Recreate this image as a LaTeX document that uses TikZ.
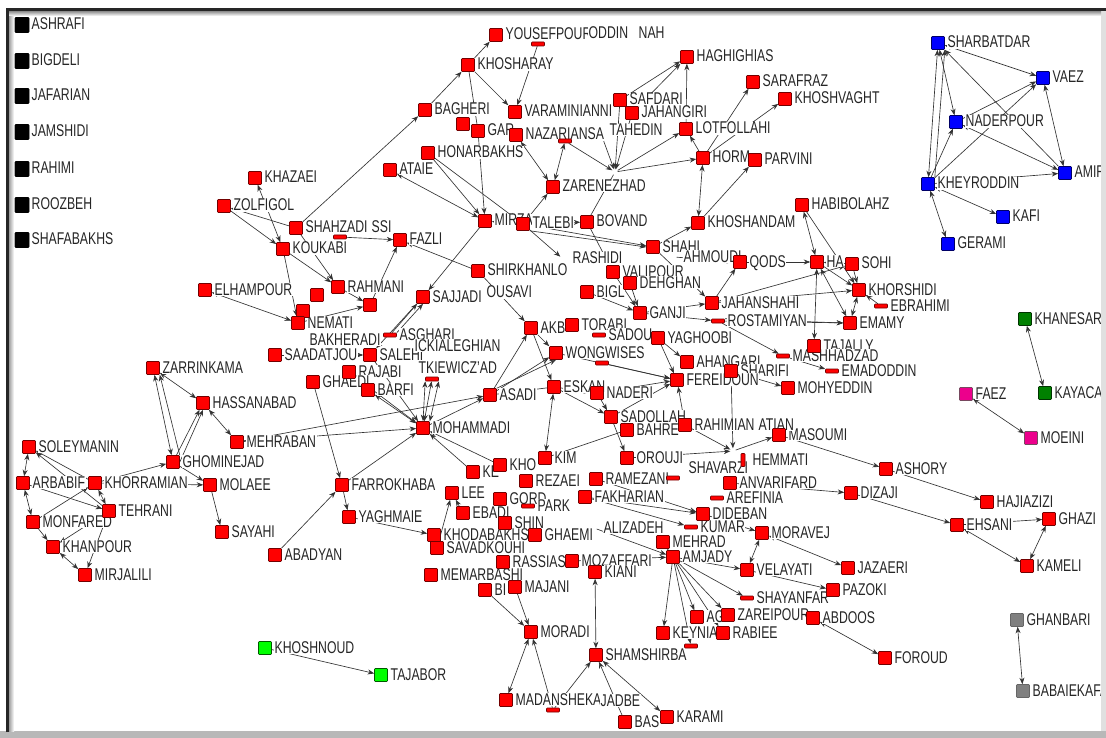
\documentclass[tikz,border=0pt]{standalone}
\usepackage{fontspec}
\setmainfont[FakeStretch=0.72]{Liberation Sans}
\usetikzlibrary{arrows.meta}
\pgfdeclarelayer{back}\pgfdeclarelayer{bg}\pgfdeclarelayer{lab}
\pgfsetlayers{back,bg,lab,main}
\newcommand\lblfont{\fontsize{17}{19}\selectfont}
\newcommand\nd[5][sq]{\node[#1] (#2) at (#3,#4) {};\begin{pgfonlayer}{lab}\node[lbl] (#2-l) at ({#3+9},{#4+5}) {#5};\end{pgfonlayer}}
\newcommand\nn[4][sq]{\node[#1] (#2) at (#3,#4) {};}
\newcommand\tx[4]{\begin{pgfonlayer}{lab}\node[lbl] (#1) at (#2,#3) {#4};\end{pgfonlayer}}
\newcommand\Ea[2]{\draw[ar] (#1) -- (#2);}
\newcommand\Eb[2]{\draw[br] (#1) -- (#2);}
\newcommand\El[2]{\draw[ln] (#1) -- (#2);}
\begin{document}
\begin{tikzpicture}[x=1pt,y=-1pt,
  sq/.style={draw=red!45!black, fill=red, line width=0.6pt, minimum width=13pt, minimum height=13pt, inner sep=0pt, rounded corners=0.8pt},
  bsq/.style={sq, fill=blue, draw=blue!40!black},
  ksq/.style={sq, fill=black, draw=black, minimum width=14pt, minimum height=15pt},
  gsq/.style={sq, fill=green, draw=green!35!black},
  dsq/.style={sq, fill=green!50!black, draw=green!20!black},
  msq/.style={sq, fill=magenta, draw=magenta!40!black},
  ysq/.style={sq, fill=gray, draw=black!60},
  hbar/.style={sq, minimum height=4pt},
  vbar/.style={sq, minimum width=4pt},
  hid/.style={minimum size=5pt, inner sep=0pt},
  lbl/.style={font=\lblfont, inner sep=0.5pt, fill=white, text=black!85, anchor=base west},
  ln/.style={draw=black!80, line width=0.65pt},
  ar/.style={ln, -{Stealth[length=6.5pt,width=5pt]}},
  br/.style={ln, {Stealth[length=6.5pt,width=5pt]}-{Stealth[length=6.5pt,width=5pt]}}
]
\useasboundingbox (0,0) rectangle (1106,738);
\begin{pgfonlayer}{back}
\fill[white] (0,0) rectangle (1106,738);
\end{pgfonlayer}

% isolates
\nd[ksq]{ASHRAFI}{22}{25}{ASHRAFI}
\nd[ksq]{BIGDELI}{22}{61}{BIGDELI}
\nd[ksq]{JAFARIAN}{22}{96}{JAFARIAN}
\nd[ksq]{JAMSHIDI}{22}{132}{JAMSHIDI}
\nd[ksq]{RAHIMI}{22}{169}{RAHIMI}
\nd[ksq]{ROOZBEH}{22}{205}{ROOZBEH}
\nd[ksq]{SHAFABAKHS}{22}{240}{SHAFABAKHS}

% blue
\nd[bsq]{SHARBATDAR}{938}{43}{SHARBATDAR}
\nd[bsq]{VAEZ}{1043}{78}{VAEZ}
\nd[bsq]{NADERPOUR}{956}{122}{NADERPOUR}
\nd[bsq]{AMIR}{1065}{173}{AMIR}
\nd[bsq]{KHEYRODDIN}{928}{184}{KHEYRODDIN}
\nd[bsq]{KAFI}{1003}{217}{KAFI}
\nd[bsq]{GERAMI}{948}{244}{GERAMI}

% small components
\nd[gsq]{KHOSHNOUD}{265}{648}{KHOSHNOUD}
\nd[gsq]{TAJABOR}{381}{675}{TAJABOR}
\nd[dsq]{KHANESAR}{1025}{319}{KHANESAR}
\nd[dsq]{KAYACAN}{1045}{393}{KAYACAN}
\nd[msq]{FAEZ}{966}{394}{FAEZ}
\nd[msq]{MOEINI}{1031}{438}{MOEINI}
\nd[ysq]{GHANBARI}{1017}{620}{GHANBARI}
\nd[ysq]{BABAIEKAFA}{1023}{691}{BABAIEKAFA}

% top
\nd{YOUSEF}{496}{35}{YOUSEFPOUR}
\nn[hbar]{ODDIN}{538}{44}
\tx{oddintx}{588}{39}{ODDIN}
\tx{nahtx}{638}{39}{NAH}
\nd{KHOSHARAY}{468}{65}{KHOSHARAY}
\nd{BAGHERI}{425}{110}{BAGHERI}
\nd{VARAMINI}{515}{112}{VARAMINIANNI}
\nn{AB}{463}{124}
\nd{GARO}{478}{131}{GAR}
\nd{NAZARIANSA}{516}{135}{NAZARIANSA}
\nn[hbar]{nz}{565}{141}
\nd{HONARBAKHS}{428}{153}{HONARBAKHS}
\nd{ATAIE}{390}{170}{ATAIE}
\nd{MIRZA}{485}{221}{MIRZA}
\nd{TALEBI}{523}{224}{TALEBI}
\nd{SHAHZADI}{296}{228}{SHAHZADI}
\tx{ssitx}{371}{233}{SSI}
\nn[hbar]{hb1}{340}{237}
\nd{FAZLI}{400}{240}{FAZLI}
\nd{KOUKABI}{283}{249}{KOUKABI}
\nd{KHAZAEI}{255}{178}{KHAZAEI}
\nd{ZOLFIGOL}{224}{206}{ZOLFIGOL}
\nd{HAGHIGHIAS}{687}{57}{HAGHIGHIAS}
\nd{SARAFRAZ}{753}{82}{SARAFRAZ}
\nd{KHOSHVAGHT}{785}{99}{KHOSHVAGHT}
\nd{SAFDARI}{620}{100}{SAFDARI}
\nd{JAHANGIRI}{632}{113}{JAHANGIRI}
\nd[hid]{tah}{600}{131}{TAHEDIN}
\nn[hid]{hz}{615}{172}
\nd{LOTFOLLAHI}{686}{129}{LOTFOLLAHI}
\nd{HORMOZI}{703}{158}{HORM}
\nd{PARVINI}{755}{160}{PARVINI}
\nd{ZARENEZHAD}{553}{187}{ZARENEZHAD}
\nd{BOVAND}{587}{222}{BOVAND}
\nd{KHOSHANDAM}{698}{223}{KHOSHANDAM}
\nd{SHAHI}{653}{247}{SHAHI}
\nd{HABIBOLAHZ}{802}{205}{HABIBOLAHZ}

% left
\nd{ELHAMPOUR}{205}{290}{ELHAMPOUR}
\nd{SAADATJOU}{275}{355}{SAADATJOU}
\nd{ZARRINKAMA}{153}{368}{ZARRINKAMA}
\nd{HASSANABAD}{203}{403}{HASSANABAD}
\nd{MEHRABAN}{237}{442}{MEHRABAN}
\nd{SOLEYMANIN}{29}{447}{SOLEYMANIN}
\nd{GHOMINEJAD}{173}{462}{GHOMINEJAD}
\nd{ARBABIF}{23}{483}{ARBABIF}
\nd{KHORRAMIAN}{95}{483}{KHORRAMIAN}
\nd{MOLAEE}{210}{485}{MOLAEE}
\nd{TEHRANI}{109}{511}{TEHRANI}
\nd{MONFARED}{33}{522}{MONFARED}
\nd{KHANPOUR}{53}{547}{KHANPOUR}
\nd{MIRJALILI}{85}{575}{MIRJALILI}
\nd{SAYAHI}{222}{532}{SAYAHI}
\nd{ABADYAN}{275}{555}{ABADYAN}

% middle left
\nd{RAHMANI}{338}{287}{RAHMANI}
\nn{m1}{317}{295}
\nn{m2}{303}{311}
\nd{NEMATI}{298}{323}{NEMATI}
\tx{bakh}{309}{345}{BAKHERADI}
\nn{n370}{370}{305}
\nd{SAJJADI}{423}{297}{SAJJADI}
\nd{SHIRKHANLO}{478}{271}{SHIRKHANLO}
\tx{ousavi}{486}{298}{OUSAVI}
\nd[hbar]{ASGHARI}{390}{335}{ASGHARI}
\nd{SALEHI}{370}{355}{SALEHI}
\tx{ickitx}{414}{351}{ICKIALEGHIAN}
\nd{RAJABI}{349}{372}{RAJABI}
\tx{tkiew}{418}{373}{TKIEWICZ’AD}
\nn[hbar]{tb}{432}{379}
\nd{GHAEDI}{313}{382}{GHAEDI}
\nd{BARFI}{368}{390}{BARFI}
\nd{ASADI}{490}{395}{ASADI}
\nd{MOHAMMADI}{423}{428}{MOHAMMADI}
\nd{FARROKHABA}{342}{485}{FARROKHABA}
\nd{YAGHMAIE}{349}{517}{YAGHMAIE}

% center lower
\nd{KE}{473}{472}{KE}
\nd{KHO}{500}{465}{KHO}
\nd{KIM}{545}{458}{KIM}
\nd{REZAEI}{526}{481}{REZAEI}
\nd{LEE}{452}{493}{LEE}
\nd{GORD}{500}{499}{GORD}
\nd{EBADI}{463}{513}{EBADI}
\nd{SHIN}{505}{523}{SHIN}
\nd[hbar]{PARK}{528}{506}{PARK}
\nd{KHODA}{434}{535}{KHODABAKHSH}
\nd{SAVADKOUHI}{437}{548}{SAVADKOUHI}
\nd{MEMARBASHI}{431}{575}{MEMARBASHI}
\nd{RASSIAS}{503}{562}{RASSIAS}
\nd{GHAEMI}{535}{535}{GHAEMI}
\nd{BI}{485}{590}{BI}
\nd{MAJANI}{515}{587}{MAJANI}
\nd{MORADI}{531}{632}{MORADI}
\nd{MADANSHEKA}{506}{700}{MADANSHEKA}
\nn[hbar]{jb}{553}{710}
\tx{jadbe}{600}{706}{JADBE}
\nd{SHAMSHIRBA}{596}{655}{SHAMSHIRBA}
\nd{BAS}{625}{722}{BAS}
\nd{KARAMI}{667}{717}{KARAMI}
\nd{FAKHARIAN}{585}{497}{FAKHARIAN}
\nd{RAMEZANI}{596}{479}{RAMEZANI}
\nd[hid]{ali}{594}{528}{ALIZADEH}
\nd{MOZAFFARI}{572}{561}{MOZAFFARI}
\nd{KIANI}{595}{572}{KIANI}
\nd{DIDEBAN}{703}{514}{DIDEBAN}
\nd[hbar]{KUMAR}{691}{527}{KUMAR}
\nd{MORAVEJ}{762}{533}{MORAVEJ}
\nd{MEHRAD}{663}{542}{MEHRAD}
\nd{AMJADY}{673}{557}{AMJADY}
\nd{VELAYATI}{747}{570}{VELAYATI}
\nd[hbar]{SHAYANFAR}{747}{598}{SHAYANFAR}
\nd{AG}{697}{617}{AG}
\nd{ZAREIPOUR}{728}{615}{ZAREIPOUR}
\nd{RABIEE}{723}{633}{RABIEE}
\nd{KEYNIA}{663}{633}{KEYNIA}
\nn[hbar]{kb}{691}{646}
\nd{ABDOOS}{813}{618}{ABDOOS}
\nd{JAZAERI}{848}{568}{JAZAERI}
\nd{PAZOKI}{833}{590}{PAZOKI}
\nd{FOROUD}{885}{658}{FOROUD}
\nd{DIZAJI}{851}{493}{DIZAJI}
\nd{HAJIAZIZI}{987}{502}{HAJIAZIZI}
\nd{EHSANI}{957}{525}{EHSANI}
\nd{GHAZI}{1049}{519}{GHAZI}
\nd{KAMELI}{1027}{566}{KAMELI}
\nd{ASHORY}{886}{469}{ASHORY}
\nd{MASOUMI}{779}{435}{MASOUMI}
\nd{ANVARIFARD}{730}{483}{ANVARIFARD}
\nd[hbar]{AREFINIA}{717}{498}{AREFINIA}
\nn[hbar]{abd}{673}{478}
\nd[vbar]{HEMMATI}{743}{460}{HEMMATI}
\nn[hid]{kesh}{733}{451}
\tx{keshtx}{688}{473}{SHAVARZI}

% center upper
\nd{VALIPOUR}{613}{272}{VALIPOUR}
\nd[hid]{rash}{563}{259}{RASHIDI}
\nd{BIGL}{587}{292}{BIGL}
\nd{DEHGHAN}{630}{283}{DEHGHAN}
\nd[hid]{ahm}{674}{257}{AHMOUDI}
\nd{QODS}{740}{262}{QODS}
\nd{JAHANSHAHI}{712}{303}{JAHANSHAHI}
\nd{GANJI}{640}{313}{GANJI}
\nd[hbar]{ROSTAMIYAN}{718}{321}{ROSTAMIYAN}
\nd{AKB}{531}{328}{AKB}
\nd{TORABI}{572}{325}{TORABI}
\nd[hbar]{SADOU}{599}{335}{SADOU}
\nd{YAGHOOBI}{658}{338}{YAGHOOBI}
\nd{WONGWISES}{556}{353}{WONGWISES}
\nn[hbar]{wb}{602}{363}
\nd{AHANGARI}{687}{362}{AHANGARI}
\nd{SHARIFI}{731}{371}{SHARIFI}
\nd{FEREIDOUN}{677}{380}{FEREIDOUN}
\nd{ESKAN}{554}{387}{ESKAN}
\nd{NADERI}{597}{393}{NADERI}
\nd{MOHYEDDIN}{788}{388}{MOHYEDDIN}
\nd{SADOLLAH}{611}{417}{SADOLLAH}
\nd{BAHRE}{627}{430}{BAHRE}
\nd{RAHIMIAN}{685}{425}{RAHIMIAN}
\tx{atian}{758}{430}{ATIAN}
\nd{OROUJI}{627}{458}{OROUJI}

% right middle
\nd{HA}{817}{262}{HA}
\nd{SOHI}{852}{264}{SOHI}
\nd{KHORSHIDI}{859}{290}{KHORSHIDI}
\nd[hbar]{EBRAHIMI}{881}{306}{EBRAHIMI}
\nd{EMAMY}{850}{323}{EMAMY}
\nd{TAJALLY}{814}{346}{TAJALLY}
\nd[hbar]{MASHHADZAD}{783}{356}{MASHHADZAD}
\nd[hbar]{EMADODDIN}{832}{371}{EMADODDIN}

\begin{pgfonlayer}{bg}
% blue
\Eb{SHARBATDAR}{VAEZ}
\Eb{SHARBATDAR}{NADERPOUR}
\Eb{KHEYRODDIN}{SHARBATDAR}
\draw[ar] (KHEYRODDIN.north east) -- (SHARBATDAR.south east);
\Ea{AMIR}{SHARBATDAR}
\Ea{NADERPOUR}{VAEZ}
\Ea{KHEYRODDIN}{VAEZ}
\Ea{KHEYRODDIN}{NADERPOUR}
\Eb{NADERPOUR}{AMIR}
\Eb{VAEZ}{AMIR}
\Ea{KHEYRODDIN}{AMIR}
\Eb{KHEYRODDIN}{KAFI}
\Eb{KHEYRODDIN}{GERAMI}
% pairs
\Ea{KHOSHNOUD}{TAJABOR}
\Eb{FAEZ}{MOEINI}
\Eb{KHANESAR}{KAYACAN}
\Eb{GHANBARI}{BABAIEKAFA}
% right lower
\Ea{ANVARIFARD}{DIZAJI}
\Ea{DIZAJI}{EHSANI}
\Ea{ASHORY}{HAJIAZIZI}
\Ea{MASOUMI}{ASHORY}
\Ea{EHSANI}{GHAZI}
\Eb{EHSANI}{KAMELI}
\Eb{KAMELI}{GHAZI}
\Eb{ABDOOS}{FOROUD}
\Eb{MORAVEJ}{JAZAERI}
\Ea{VELAYATI}{PAZOKI}
\Eb{MORAVEJ}{VELAYATI}
\Ea{DIDEBAN}{MORAVEJ}
\Ea{AMJADY}{VELAYATI}
\Ea{AMJADY}{KEYNIA}
\Ea{AMJADY}{AG}
\Ea{AMJADY}{ZAREIPOUR}
\Ea{AMJADY}{RABIEE}
\Ea{AMJADY}{SHAYANFAR}
\Ea{AMJADY}{kb}
\Ea{MEHRAD}{AMJADY}
\Ea{ali}{AMJADY}
\Ea{MOZAFFARI}{AMJADY}
\Ea{FAKHARIAN}{DIDEBAN}
\Ea{RAMEZANI}{DIDEBAN}
\Ea{FAKHARIAN}{KUMAR}
\Eb{KIANI}{SHAMSHIRBA}
\Ea{jb}{SHAMSHIRBA}
\Eb{SHAMSHIRBA}{KARAMI}
\Ea{BAS}{SHAMSHIRBA}
\Ea{BI}{MORADI}
\Ea{MAJANI}{MORADI}
\Eb{MORADI}{MADANSHEKA}
\Ea{jb}{MORADI}
% lower middle
\Ea{YAGHMAIE}{KHODA}
\Ea{FARROKHABA}{YAGHMAIE}
\Ea{ABADYAN}{FARROKHABA}
\Ea{GHAEDI}{FARROKHABA}
\Ea{FARROKHABA}{MOHAMMADI}
\Ea{KHO}{MOHAMMADI}
\Ea{KE}{MOHAMMADI}
\Ea{SAVADKOUHI}{LEE}
\Ea{EBADI}{LEE}
\Ea{MOHAMMADI}{ASADI}
\Ea{MEHRABAN}{MOHAMMADI}
\Ea{MEHRABAN}{ASADI}
\Eb{BARFI}{MOHAMMADI}
\Ea{RAJABI}{MOHAMMADI}
\Eb{tb}{MOHAMMADI}
\draw[br] (tb.south west) -- (MOHAMMADI.north);
\draw[br] (tb.south east) -- (MOHAMMADI.north east);
\Ea{SALEHI}{MOHAMMADI}
\Ea{ASADI}{AKB}
\Ea{ASADI}{WONGWISES}
\draw[ar] (ASADI.north east) -- (WONGWISES.south);
\Ea{AKB}{ESKAN}
\El{ASADI}{ESKAN}
\Eb{ESKAN}{KIM}
\Ea{ESKAN}{NADERI}
\Ea{ESKAN}{SADOLLAH}
\Ea{NADERI}{SADOLLAH}
\Ea{SADOLLAH}{FEREIDOUN}
\Ea{NADERI}{FEREIDOUN}
\Ea{WONGWISES}{FEREIDOUN}
\Ea{wb}{FEREIDOUN}
\Ea{YAGHOOBI}{FEREIDOUN}
\Ea{YAGHOOBI}{AHANGARI}
\Ea{RAHIMIAN}{FEREIDOUN}
\Ea{SADOLLAH}{OROUJI}
\Ea{OROUJI}{kesh}
\Ea{RAHIMIAN}{kesh}
\Ea{SHARIFI}{kesh}
\Ea{kesh}{MASOUMI}
\El{KIM}{BAHRE}
\Ea{SHARIFI}{MOHYEDDIN}
\Ea{ROSTAMIYAN}{MASHHADZAD}
\Ea{MASHHADZAD}{EMADODDIN}
\Ea{GANJI}{JAHANSHAHI}
\Ea{VALIPOUR}{GANJI}
\Ea{DEHGHAN}{GANJI}
\Ea{BIGL}{GANJI}
\Ea{SHAHI}{JAHANSHAHI}
\Ea{ahm}{QODS}
\Ea{JAHANSHAHI}{QODS}
\Ea{QODS}{HA}
\Ea{JAHANSHAHI}{SOHI}
\Ea{JAHANSHAHI}{KHORSHIDI}
\Ea{ROSTAMIYAN}{EMAMY}
\draw[ar] (ROSTAMIYAN.north east) -- (EMAMY.west);
\Ea{GANJI}{ROSTAMIYAN}
\Ea{AKB}{WONGWISES}
% right cluster
\Eb{HABIBOLAHZ}{HA}
\Ea{HABIBOLAHZ}{KHORSHIDI}
\Eb{HA}{SOHI}
\Ea{HA}{KHORSHIDI}
\Eb{HA}{EMAMY}
\Eb{HA}{TAJALLY}
\Ea{SOHI}{KHORSHIDI}
\Eb{KHORSHIDI}{EMAMY}
\Ea{EBRAHIMI}{KHORSHIDI}
% upper
\Ea{ZOLFIGOL}{KOUKABI}
\Ea{SHAHZADI}{ZOLFIGOL}
\Eb{KHAZAEI}{KOUKABI}
\Ea{SHAHZADI}{BAGHERI}
\Ea{hb1}{FAZLI}
\Ea{KOUKABI}{RAHMANI}
\Ea{KOUKABI}{NEMATI}
\Ea{SHAHZADI}{RAHMANI}
\Ea{RAHMANI}{n370}
\Eb{ELHAMPOUR}{NEMATI}
\Ea{SAADATJOU}{SALEHI}
\Ea{NEMATI}{n370}
\Ea{ASGHARI}{SAJJADI}
\draw[ar] (ASGHARI.north east) -- (SAJJADI.south);
\Ea{SAJJADI}{SALEHI}
\Ea{n370}{FAZLI}
\Ea{SHIRKHANLO}{FAZLI}
\Ea{MIRZA}{SAJJADI}
\Ea{HONARBAKHS}{MIRZA}
\Ea{GARO}{MIRZA}
\Eb{ATAIE}{MIRZA}
\Ea{HONARBAKHS}{TALEBI}
\Ea{TALEBI}{MIRZA}
\Ea{TALEBI}{ZARENEZHAD}
\Eb{NAZARIANSA}{ZARENEZHAD}
\Eb{nz}{ZARENEZHAD}
\Ea{KHOSHARAY}{VARAMINI}
\Ea{BAGHERI}{KHOSHARAY}
\Ea{KHOSHARAY}{YOUSEF}
\Ea{ODDIN}{VARAMINI}
\El{KHOSHARAY}{GARO}
\Ea{SAFDARI}{HAGHIGHIAS}
\Ea{JAHANGIRI}{HAGHIGHIAS}
\Ea{LOTFOLLAHI}{HAGHIGHIAS}
\Ea{SAFDARI}{hz}
\Ea{JAHANGIRI}{hz}
\Ea{tah}{hz}
\Ea{nz}{hz}
\Ea{hz}{LOTFOLLAHI}
\Ea{hz}{HORMOZI}
\Ea{HORMOZI}{LOTFOLLAHI}
\Ea{HORMOZI}{SARAFRAZ}
\Ea{HORMOZI}{KHOSHVAGHT}
\Eb{HORMOZI}{KHOSHANDAM}
\Ea{KHOSHANDAM}{PARVINI}
\Ea{SHAHI}{KHOSHANDAM}
\Ea{TALEBI}{SHAHI}
\draw[ar] (TALEBI.south east) -- (SHAHI.west);
\El{BOVAND}{hz}
\Ea{TALEBI}{BOVAND}
\Ea{TALEBI}{rash}
\Ea{BOVAND}{VALIPOUR}
\Ea{SHIRKHANLO}{AKB}
% lower left
\Eb{ZARRINKAMA}{HASSANABAD}
\Eb{ZARRINKAMA}{GHOMINEJAD}
\draw[ar] (GHOMINEJAD.north east) -- (ZARRINKAMA.south east);
\Ea{GHOMINEJAD}{HASSANABAD}
\draw[ar] (GHOMINEJAD.east) -- (HASSANABAD.south);
\Eb{HASSANABAD}{MEHRABAN}
\Ea{KHORRAMIAN}{GHOMINEJAD}
\Ea{GHOMINEJAD}{MOLAEE}
\Ea{KHORRAMIAN}{MOLAEE}
\Ea{MOLAEE}{SAYAHI}
\Eb{SOLEYMANIN}{ARBABIF}
\Ea{KHORRAMIAN}{SOLEYMANIN}
\Ea{TEHRANI}{SOLEYMANIN}
\Ea{ARBABIF}{TEHRANI}
\Eb{KHORRAMIAN}{TEHRANI}
\Ea{MONFARED}{KHORRAMIAN}
\Eb{ARBABIF}{MONFARED}
\Ea{MONFARED}{KHANPOUR}
\Eb{KHANPOUR}{MIRJALILI}
\Ea{TEHRANI}{MIRJALILI}
\Ea{TEHRANI}{KHANPOUR}
\end{pgfonlayer}

% frame
\fill[black!12] (1101,9) rectangle (1106,738);
\fill[black!28] (0,731) rectangle (1106,738);
\shade[left color=black!45, right color=white] (8,11) rectangle (14,731);
\shade[top color=black!45, bottom color=white] (8,11) rectangle (1101,16);
\draw[line width=2.5pt, black!85] (7.5,732) -- (7.5,9.5) -- (1106,9.5);
\end{tikzpicture}
\end{document}
